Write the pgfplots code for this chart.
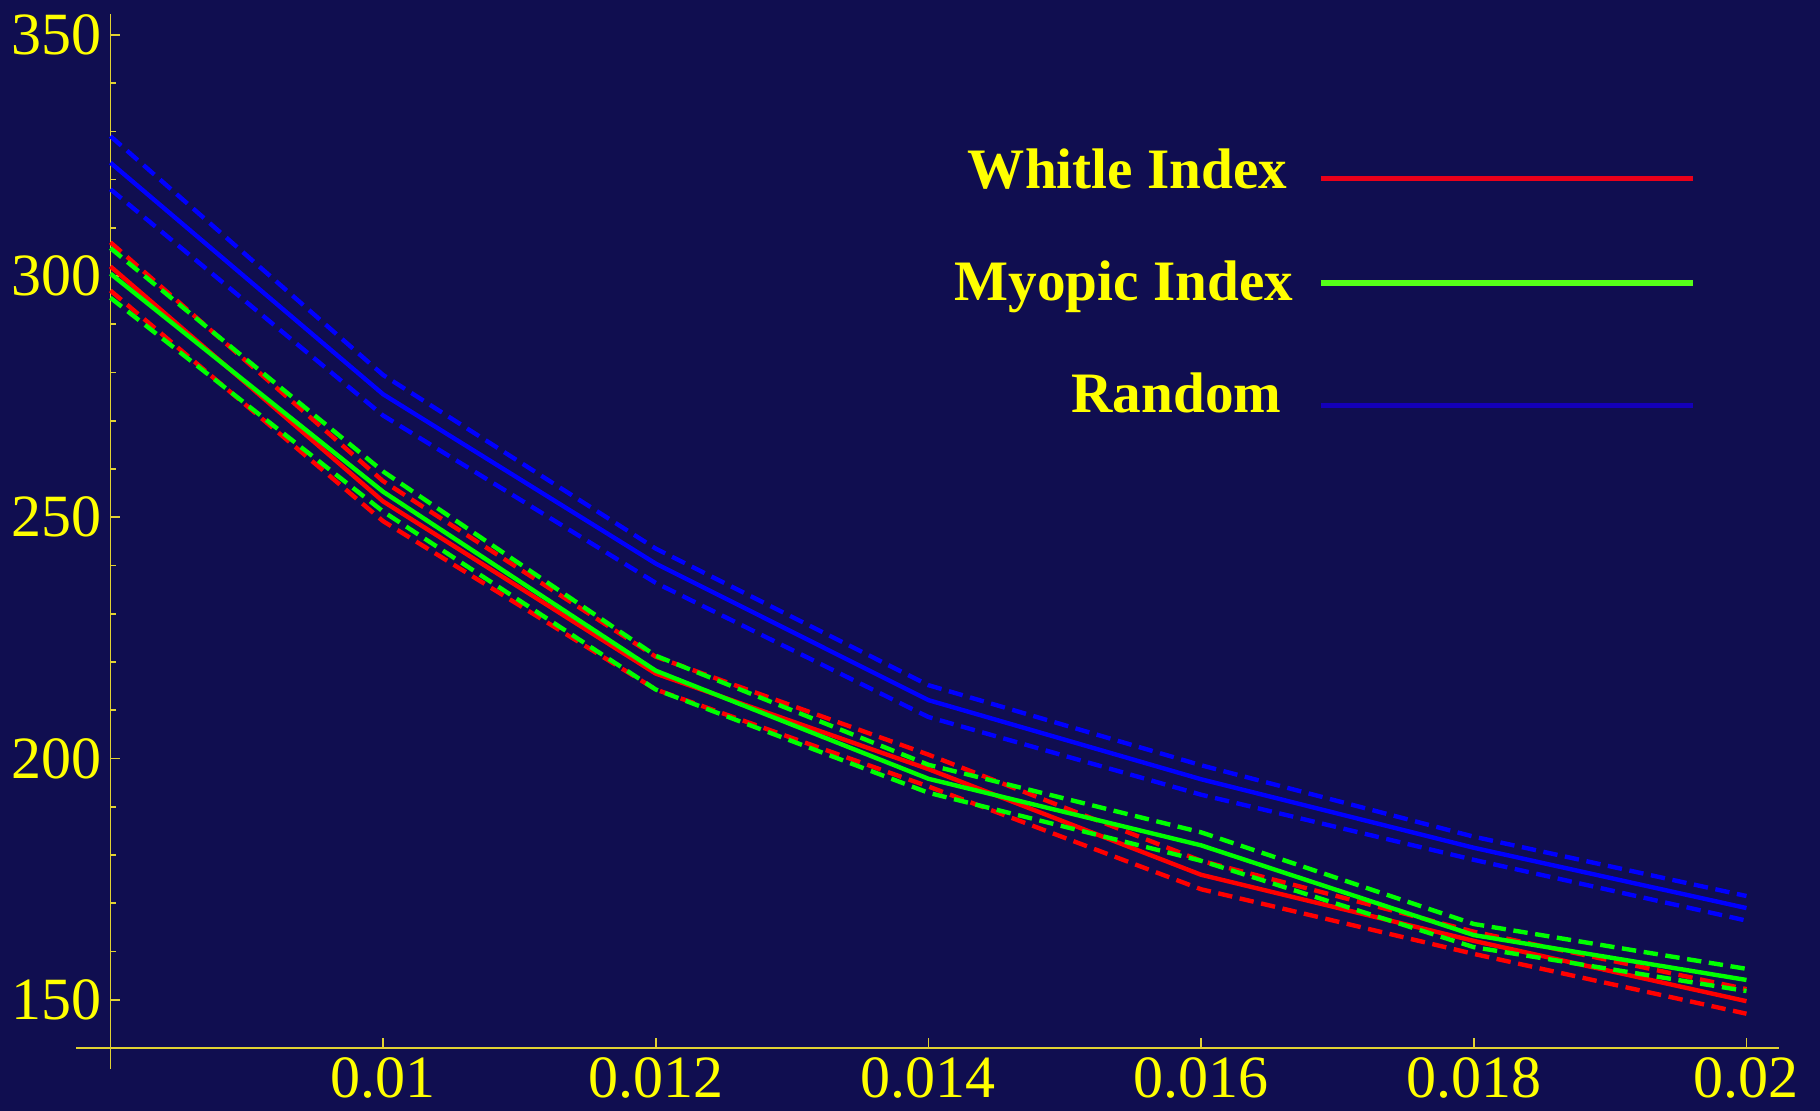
\documentclass[border=0pt]{standalone}
\usepackage{pgfplots}
\usepackage{pgfplotstable}
\pgfplotsset{compat=1.18}
\usepackage{fontspec}
\setmainfont{Liberation Serif}
\definecolor{bg}{RGB}{16,14,80}
\definecolor{ax}{RGB}{225,210,50}
\definecolor{yel}{RGB}{255,255,0}
\definecolor{cR}{RGB}{255,0,0}
\definecolor{cG}{RGB}{0,255,0}
\definecolor{cB}{RGB}{0,0,255}
\definecolor{lR}{RGB}{235,0,25}
\definecolor{lG}{RGB}{85,255,25}
\definecolor{lB}{RGB}{20,0,185}

\pgfplotstableread{
x whit whitU whitL myop myopU myopL rand randU randL
0.008 302.0 307.0 297.0 300.5 305.8 295.5 323.5 329.0 318.0
0.010 253.3 257.5 249.2 255.3 259.5 251.2 275.5 279.5 271.1
0.012 217.6 221.1 214.3 218.2 221.3 214.3 240.4 243.5 236.4
0.014 197.8 200.8 194.2 195.8 198.7 192.9 212.1 215.2 208.6
0.016 175.9 178.8 172.9 182.0 184.7 178.8 195.7 198.6 192.5
0.018 162.2 164.1 159.5 163.4 165.7 160.9 181.5 183.8 179.0
0.020 149.7 152.2 147.1 154.1 156.4 151.8 169.0 171.5 166.4
}\datatab

\begin{document}
\begin{tikzpicture}
\fill[bg] (-27.6pt,-15.75pt) rectangle (427.4pt,262pt);
\begin{axis}[
  at={(0pt,0pt)}, anchor=south west,
  scale only axis, width=417.2pt, height=258.6pt,
  xmin=0.008, xmax=0.02024, ymin=140, ymax=354.4,
  axis lines*=left,
  axis line style={ax, line width=0.4pt},
  clip=false,
  xtick={0.01,0.012,0.014,0.016,0.018,0.02},
  xticklabels={0.01,0.012,0.014,0.016,0.018,0.02},
  ytick={150,200,250,300,350},
  yticklabels={150,200,250,300,350},
  minor ytick={160,170,180,190,210,220,230,240,260,270,280,290,310,320,330,340},
  tick align=inside,
  major tick length=2.5pt, minor tick length=1.3pt,
  tick style={ax, line width=0.4pt},
  tick label style={yel, font=\fontsize{15}{18}\selectfont, inner sep=0pt},
  xticklabel style={anchor=north, yshift=-2.2pt},
  yticklabel style={anchor=east, xshift=-2pt},
  legend style={at={(0.9503,0.87)}, anchor=north east, draw=none, fill=none,
    inner sep=0pt, row sep=15pt, column sep=6.2pt, text=yel,
    font=\bfseries\fontsize{14.3}{17}\selectfont,
    nodes={inner sep=0pt, text height=10pt, text depth=3pt}},
  legend cell align=right,
  legend plot pos=right,
]
\addlegendimage{legend image code/.code={\draw[lR, line width=1.4pt] (0pt,-0.9pt) -- (93pt,-0.9pt);}}
\addlegendentry{Whitle Index\hspace*{1.45pt}}
\addlegendimage{legend image code/.code={\draw[lG, line width=1.4pt] (0pt,0.9pt) -- (93pt,0.9pt);}}
\addlegendentry{Myopic Index}
\addlegendimage{legend image code/.code={\draw[lB, line width=1.4pt] (0pt,-1.7pt) -- (93pt,-1.7pt);}}
\addlegendentry{Random\hspace*{2.9pt}}

\addplot[forget plot, cR, line width=1.1pt, dash pattern=on 3.6pt off 1.9pt] table[x=x, y=whitU] {\datatab};
\addplot[forget plot, cR, line width=1.1pt, dash pattern=on 3.6pt off 1.9pt] table[x=x, y=whitL] {\datatab};
\addplot[forget plot, cR, line width=1.1pt] table[x=x, y=whit] {\datatab};
\addplot[forget plot, cG, line width=1.1pt, dash pattern=on 3.6pt off 1.9pt] table[x=x, y=myopU] {\datatab};
\addplot[forget plot, cG, line width=1.1pt, dash pattern=on 3.6pt off 1.9pt] table[x=x, y=myopL] {\datatab};
\addplot[forget plot, cG, line width=1.1pt] table[x=x, y=myop] {\datatab};
\addplot[forget plot, cB, line width=1.1pt, dash pattern=on 3.6pt off 1.9pt] table[x=x, y=randU] {\datatab};
\addplot[forget plot, cB, line width=1.1pt, dash pattern=on 3.6pt off 1.9pt] table[x=x, y=randL] {\datatab};
\addplot[forget plot, cB, line width=1.1pt] table[x=x, y=rand] {\datatab};

\draw[ax, line width=0.4pt] (axis cs:0.00775,140) -- (axis cs:0.008,140);
\draw[ax, line width=0.4pt] (axis cs:0.008,135.6) -- (axis cs:0.008,140);
\end{axis}
\pgfresetboundingbox
\path (-27.6pt,-15.75pt) rectangle (427.4pt,262pt);
\end{tikzpicture}
\end{document}
